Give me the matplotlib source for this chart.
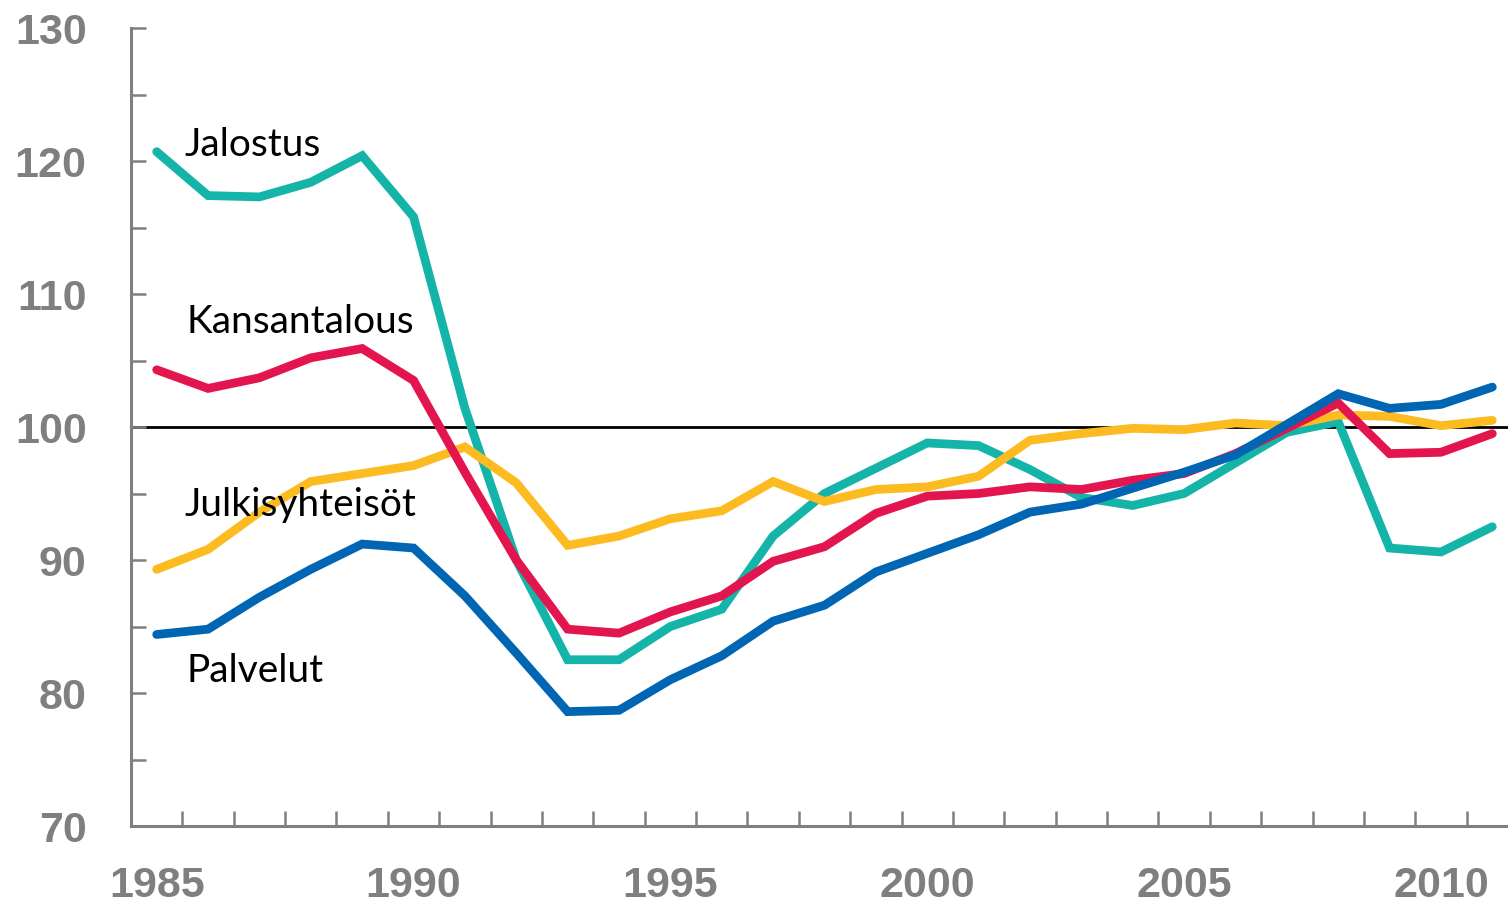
import numpy as np
import matplotlib.pyplot as plt
from matplotlib.ticker import MultipleLocator

# Vuodet ja sarjat (indeksi, 2007 = 100)
vuodet = np.arange(1985, 2012)

jalostus = [120.7, 117.4, 117.3, 118.4, 120.4, 115.8, 101.4, 90.0, 82.5, 82.5,
            85.0, 86.3, 91.8, 95.0, 96.9, 98.8, 98.6, 96.8, 94.7, 94.1,
            95.0, 97.3, 99.6, 100.4, 90.9, 90.6, 92.5]
kansantalous = [104.3, 102.9, 103.7, 105.2, 105.9, 103.5, 96.6, 90.0, 84.8, 84.5,
                86.1, 87.3, 89.9, 91.0, 93.5, 94.8, 95.0, 95.5, 95.3, 96.0,
                96.5, 98.0, 99.9, 101.8, 98.0, 98.1, 99.5]
julkisyhteisot = [89.3, 90.8, 93.6, 95.9, 96.5, 97.1, 98.5, 95.8, 91.1, 91.8,
                  93.1, 93.7, 95.9, 94.4, 95.3, 95.5, 96.3, 99.0, 99.5, 99.9,
                  99.8, 100.3, 100.1, 100.9, 100.8, 100.1, 100.5]
palvelut = [84.4, 84.8, 87.2, 89.3, 91.2, 90.9, 87.3, 83.0, 78.6, 78.7,
            81.0, 82.8, 85.4, 86.6, 89.1, 90.5, 91.9, 93.6, 94.2, 95.4,
            96.6, 97.9, 100.2, 102.5, 101.4, 101.7, 103.0]

sarjat = [
    (jalostus, '#14B4A9'),
    (julkisyhteisot, '#FDBB22'),
    (kansantalous, '#E3154E'),
    (palvelut, '#0066B3'),
]

nimet = ['Jalostus', 'Kansantalous', 'Julkisyhteisöt', 'Palvelut']
nimi_x = [1985.55, 1985.58, 1985.55, 1985.58]
nimi_y = [120.4, 107.1, 93.3, 80.8]

harmaa = '#7F7F7F'

fig = plt.figure(figsize=(15.08, 9.08), dpi=100)
ax = fig.add_axes([131 / 1508, 82 / 908, (1518 - 131) / 1508, 798 / 908])

ax.axhline(100, color='black', lw=2, zorder=1)

for arvot, vari in sarjat:
    ax.plot(vuodet, arvot, color=vari, lw=6.3, solid_capstyle='round',
            solid_joinstyle='miter', zorder=2)

for nimi, x, y in zip(nimet, nimi_x, nimi_y):
    ax.text(x, y, nimi, fontsize=28, family='Lato', color='black',
            ha='left', va='baseline', zorder=3)

ax.set_xlim(1984.5, 2011.5)
ax.set_ylim(70, 130)

# Akselit
for s in ['top', 'right']:
    ax.spines[s].set_visible(False)
for s in ['left', 'bottom']:
    ax.spines[s].set_color(harmaa)
    ax.spines[s].set_linewidth(2.2)

ax.yaxis.set_major_locator(MultipleLocator(10))
ax.yaxis.set_minor_locator(MultipleLocator(5))
ax.tick_params(axis='y', which='both', direction='in', length=11, width=1.8,
               color=harmaa)
ax.tick_params(axis='y', which='major', pad=32)

ax.set_xticks(np.arange(1985, 2011, 5))
ax.set_xticks(np.arange(1985.5, 2011, 1), minor=True)
ax.tick_params(axis='x', which='major', length=0, pad=29)
ax.tick_params(axis='x', which='minor', direction='in', length=11, width=1.8,
               color=harmaa)

for lab in ax.get_xticklabels() + ax.get_yticklabels():
    lab.set_fontfamily('Liberation Sans')
    lab.set_fontweight('bold')
    lab.set_fontsize(31)
    lab.set_color(harmaa)

fig.savefig('out.png', dpi=100)
